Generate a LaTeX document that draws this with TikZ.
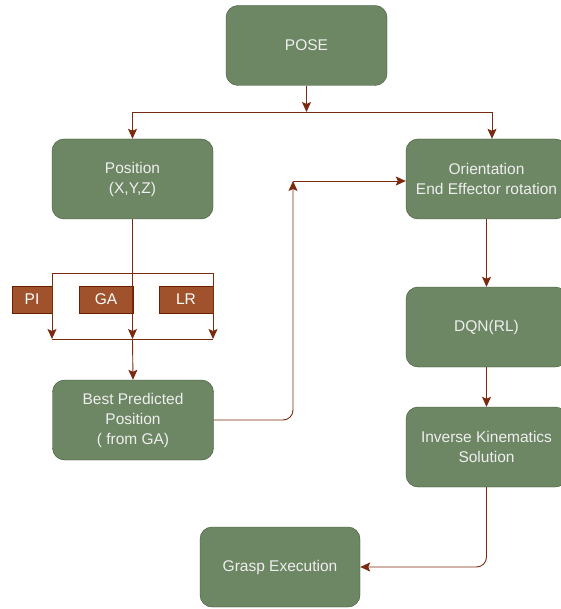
\documentclass[tikz,border=0pt]{standalone}
\usepackage{fontspec}
\setmainfont{Liberation Sans}
\usetikzlibrary{arrows.meta}
\definecolor{gfill}{HTML}{6D8764}
\definecolor{gdraw}{HTML}{3A5431}
\definecolor{bfill}{HTML}{A0522D}
\definecolor{bdraw}{HTML}{6D1F00}
\definecolor{ln}{HTML}{7A2A0E}
\definecolor{gtext}{HTML}{EEEEEE}
\tikzset{
  gbox/.style={draw=gdraw, fill=gfill, rounded corners=12pt, minimum width=161pt, minimum height=80pt, inner sep=0pt, align=center, text=gtext, font=\fontsize{15.5}{20}\selectfont},
  bbox/.style={draw=bdraw, fill=bfill, minimum height=27pt, inner sep=0pt, text=white, font=\fontsize{15.5}{18}\selectfont},
  conn/.style={draw=ln, line width=0.9pt},
  arr/.style={conn, -{Stealth[length=10pt,width=9pt,inset=2pt]}},
}
\begin{document}
\begin{tikzpicture}[x=1pt,y=-1pt]
\useasboundingbox[fill=white] (0,0) rectangle (560,609);
\node[gbox] (pose) at (306.5,45.5) {POSE};
\node[gbox] (position) at (132.5,179) {Position\\(X,Y,Z)};
\node[gbox] (orient) at (486.5,179) {Orientation\\End Effector rotation};
\node[gbox] (dqn) at (486.5,327) {DQN(RL)};
\node[gbox] (ik) at (486.5,447) {Inverse Kinematics\\Solution};
\node[gbox] (best) at (133,420) {Best Predicted\\Position\\( from GA)};
\node[gbox, minimum width=160pt] (grasp) at (280,567) {Grasp Execution};
\node[bbox, minimum width=40pt] (pi) at (32,299.5) {PI};
\node[bbox, minimum width=54pt] (ga) at (106,299.5) {GA};
\node[bbox, minimum width=54pt] (lr) at (186,299.5) {LR};
% pose split
\coordinate (jn) at (306.5,112);
\draw[arr] (pose.south) -- (jn);
\draw[arr] (jn) -| (position.north);
\draw[arr] (jn) -| ([xshift=5.5pt]orient.north);
% frame around PI / GA / LR
\coordinate (ftl) at (52,273);
\coordinate (ftr) at (213,273);
\coordinate (fbl) at (52,339);
\coordinate (fbr) at (213,339);
\coordinate (fbm) at (132.5,339);
\draw[conn] (ftl) -- (ftr);
\draw[conn] (fbl) -- (fbr);
\draw[arr] (ftl) -- (fbl);
\draw[arr] (ftr) -- (fbr);
\draw[arr] (position.south) -- (fbm);
\draw[arr] (fbm) -- (best.north);
% best -> orientation
\coordinate (bend) at (293,181);
\draw[arr, rounded corners=10pt] (best.east) -| (bend);
\draw[arr] (bend) -- (bend -| orient.west);
% right column
\draw[arr] (orient.south) -- (dqn.north);
\draw[arr] (dqn.south) -- (ik.north);
\draw[arr, rounded corners=10pt] (ik.south) |- (grasp.east);
\end{tikzpicture}
\end{document}
